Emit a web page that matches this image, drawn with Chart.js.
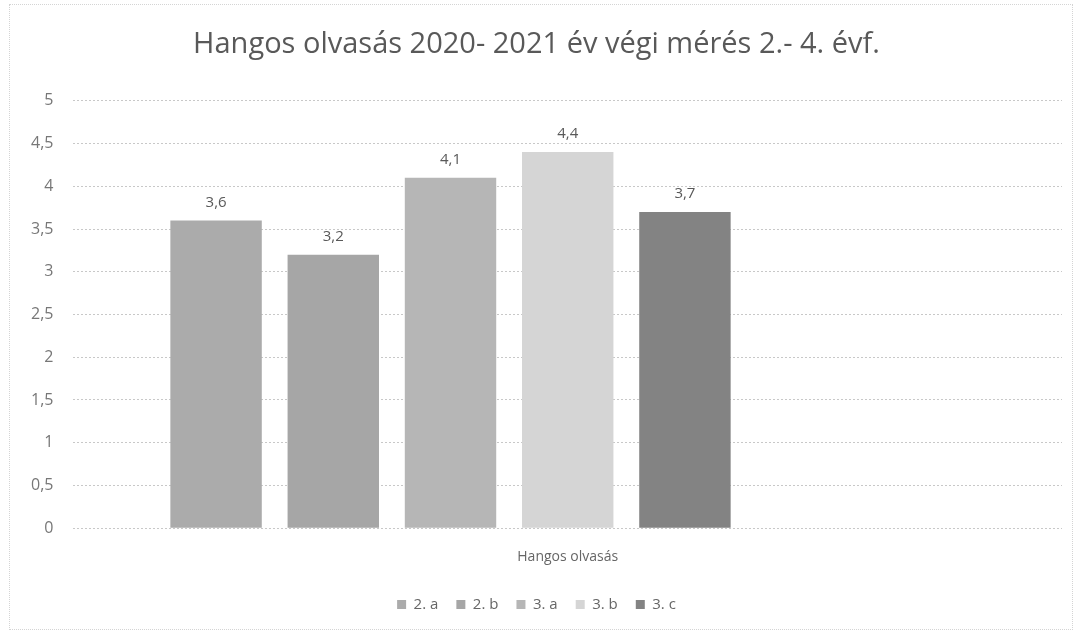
<!DOCTYPE html>
<html>
<head>
<meta charset="utf-8">
<script src="https://cdn.jsdelivr.net/npm/chart.js@4"></script>
<style>
  html, body { margin: 0; padding: 0; background: #fff; }
  .chart-container { position: relative; width: 1079px; height: 632px; }
  .chart-container::before {
    content: ''; position: absolute; left: 9px; top: 4px; right: 6px; bottom: 2px;
    border: 1px dotted #d4d4d4; pointer-events: none;
  }
</style>
</head>
<body>
<div class="chart-container">
  <canvas id="chart" width="1079" height="632"></canvas>
</div>
<script>
// adatok a képről
const categories = ['Hangos olvasás'];
const classes = ['2. a', '2. b', '3. a', '3. b', '3. c'];
const averages = [3.6, 3.2, 4.1, 4.4, 3.7];
const barColors = ['#ababab', '#a6a6a6', '#b6b6b6', '#d5d5d5', '#838383'];
// az eredeti táblában két üres sorozat is volt, ezért a csoport balra tolódik
const emptySeries = 2;

const datasets = classes.map((name, i) => ({
  label: name,
  data: [averages[i]],
  backgroundColor: barColors[i],
  borderWidth: 0,
  barPercentage: 0.78,
  categoryPercentage: 0.83,
}));
for (let i = 0; i < emptySeries; i++) {
  datasets.push({
    label: '',
    data: [null],
    backgroundColor: '#fff',
    barPercentage: 0.78,
    categoryPercentage: 0.83,
  });
}

// értékcímkék a oszlopok fölé
const valueLabels = {
  id: 'valueLabels',
  afterDatasetsDraw(chart) {
    const ctx = chart.ctx;
    ctx.save();
    ctx.font = '15px "Open Sans", sans-serif';
    ctx.fillStyle = '#595959';
    ctx.textAlign = 'center';
    ctx.textBaseline = 'middle';
    chart.data.datasets.forEach((ds, i) => {
      chart.getDatasetMeta(i).data.forEach((bar, j) => {
        const v = ds.data[j];
        if (v == null) return;
        ctx.fillText(String(v).replace('.', ','), bar.x, bar.y - 18);
      });
    });
    ctx.restore();
  }
};

new Chart(document.getElementById('chart'), {
  type: 'bar',
  data: { labels: categories, datasets: datasets },
  plugins: [valueLabels],
  options: {
    responsive: false,
    animation: false,
    layout: { padding: { left: 11, right: 17, top: 14, bottom: 10 } },
    plugins: {
      title: {
        display: true,
        text: 'Hangos olvasás 2020- 2021 év végi mérés 2.- 4. évf.',
        color: '#595959',
        font: { family: '"Open Sans", sans-serif', size: 29, weight: 'normal' },
        padding: { top: 13, bottom: 39 },
      },
      legend: {
        position: 'bottom',
        labels: {
          filter: (item) => item.text !== '',
          boxWidth: 9,
          boxHeight: 9,
          padding: 18,
          color: '#666',
          font: { family: '"Open Sans", sans-serif', size: 15 },
        },
      },
      tooltip: { enabled: false },
    },
    scales: {
      x: {
        grid: { display: false },
        border: { display: false },
        afterFit: (scale) => { scale.height += 2; },
        ticks: {
          color: '#666',
          padding: 12,
          font: { family: '"Open Sans", sans-serif', size: 14 },
        },
      },
      y: {
        min: 0,
        max: 5,
        ticks: {
          stepSize: 0.5,
          padding: 20,
          color: '#777',
          font: { family: '"Open Sans", sans-serif', size: 16 },
          callback: (v) => String(v).replace('.', ','),
        },
        grid: { color: '#c8c8c8', lineWidth: 1, drawTicks: false },
        border: { display: false, dash: [2, 2] },
      },
    },
  },
});
</script>
</body>
</html>
